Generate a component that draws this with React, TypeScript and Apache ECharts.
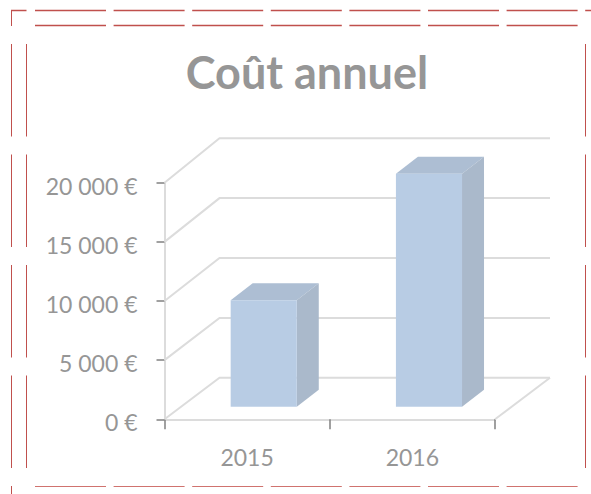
import React, { useEffect, useRef } from "react";
import * as echarts from "echarts";

const categories = ["2015", "2016"];
const annualCost = [9000, 19700];
const yTicks = [0, 5000, 10000, 15000, 20000];
const yTickLabels: Record<number, string> = {
  0: "0 €",
  5000: "5 000 €",
  10000: "10 000 €",
  15000: "15 000 €",
  20000: "20 000 €",
};
const titleText = "Coût annuel";

const WALL_DX = 55;
const WALL_DY = -41.5;
const WALL_SCALE = 1.0127;
const BAR_DX = 16.6;
const BAR_DY = -12.5;
const BAR_DEPTH_X = 22;
const BAR_DEPTH_Y = -17;
const GRID_COLOR = "#dcdcdc";
const TEXT_COLOR = "#969696";
const TICK_COLOR = "#808080";
const DASH_COLOR = "#c0504d";
const FONT = "Lato";

function dashed(x1: number, y1: number, x2: number, y2: number, dash: number[], color = DASH_COLOR, width = 1) {
  return {
    type: "line",
    silent: true,
    shape: { x1, y1, x2, y2 },
    style: { stroke: color, lineWidth: width, lineDash: dash },
  };
}

export default function App() {
  const ref = useRef<HTMLDivElement>(null);
  useEffect(() => {
    const chart = echarts.init(ref.current!, null, { renderer: "svg" });
    const hDash = [71, 7.6];
    const vDash = [92.5, 18];
    chart.setOption({
      animation: false,
      backgroundColor: "#ffffff",
      title: {
        text: titleText,
        left: 302,
        top: 44,
        textAlign: "center",
        textStyle: { fontFamily: FONT, fontWeight: "bold", fontSize: 45, color: TEXT_COLOR },
      },
      grid: { left: 164.5, right: 96, top: 182.7, bottom: 74.7 },
      xAxis: {
        type: "category",
        data: categories,
        axisLine: { show: true, lineStyle: { color: GRID_COLOR, width: 2 } },
        axisTick: { show: true, length: 10, alignWithLabel: false, lineStyle: { color: TICK_COLOR, width: 1.5 } },
        axisLabel: { color: TEXT_COLOR, fontFamily: FONT, fontSize: 23, margin: 26 },
      },
      yAxis: {
        type: "value",
        min: 0,
        max: 20000,
        interval: 5000,
        splitLine: { show: false },
        axisLine: { show: true, lineStyle: { color: GRID_COLOR, width: 2 } },
        axisTick: { show: true, length: 8, lineStyle: { color: TICK_COLOR, width: 1.5 } },
        axisLabel: {
          color: TEXT_COLOR,
          fontFamily: FONT,
          fontSize: 23,
          margin: 27,
          verticalAlign: "top",
          lineHeight: 6,
          formatter: (v: number) => yTickLabels[v],
        },
      },
      series: [
        {
          type: "custom",
          silent: true,
          z: 1,
          clip: false,
          data: yTicks.map((v) => [0, v]),
          encode: { x: 0, y: 1 },
          renderItem: (params: any, api: any) => {
            const size = api.size([1, 0])[0];
            const p = api.coord([0, api.value(1)]);
            const base = api.coord([0, 0]);
            const fx = p[0] - size / 2;
            const fy = p[1];
            const by = base[1] + WALL_DY - (base[1] - fy) * WALL_SCALE;
            const bx = fx + WALL_DX;
            const children: any[] = [
              {
                type: "polyline",
                shape: { points: [[fx, fy], [bx, by], [bx + size * categories.length, by]] },
                style: { stroke: GRID_COLOR, lineWidth: 2, fill: "none" },
              },
            ];
            if (api.value(1) === 0) {
              const rx = fx + size * categories.length;
              children.push({
                type: "polyline",
                shape: { points: [[rx, fy], [rx + WALL_DX, by]] },
                style: { stroke: GRID_COLOR, lineWidth: 2, fill: "none" },
              });
            }
            return { type: "group", children };
          },
        },
        {
          type: "custom",
          silent: true,
          z: 3,
          clip: false,
          data: annualCost.map((v, i) => [i, v]),
          encode: { x: 0, y: 1 },
          renderItem: (params: any, api: any) => {
            const size = api.size([1, 0])[0];
            const barWidth = size * 0.4;
            const top = api.coord([api.value(0), api.value(1)]);
            const bottom = api.coord([api.value(0), 0]);
            const x0 = top[0] + BAR_DX - barWidth / 2;
            const x1 = x0 + barWidth;
            const y0 = top[1] + BAR_DY;
            const y1 = bottom[1] + BAR_DY;
            const dx = BAR_DEPTH_X;
            const dy = BAR_DEPTH_Y;
            return {
              type: "group",
              children: [
                {
                  type: "polygon",
                  shape: { points: [[x0, y0], [x1, y0], [x1 + dx, y0 + dy], [x0 + dx, y0 + dy]] },
                  style: { fill: "#adbed3" },
                },
                {
                  type: "polygon",
                  shape: { points: [[x1, y0], [x1 + dx, y0 + dy], [x1 + dx, y1 + dy], [x1, y1]] },
                  style: { fill: "#aab9cb" },
                },
                {
                  type: "polygon",
                  shape: { points: [[x0, y0], [x1, y0], [x1, y1], [x0, y1]] },
                  style: { fill: "#b8cce4" },
                },
              ],
            };
          },
        },
      ],
      graphic: [
        dashed(11, 10.5, 26.5, 10.5, [], DASH_COLOR, 1.5),
        dashed(11.5, 10, 11.5, 26, []),
        dashed(35, 10.5, 591, 10.5, hDash, DASH_COLOR, 1.5),
        dashed(35, 25.5, 578, 25.5, hDash, DASH_COLOR, 1.5),
        dashed(35, 486.5, 578, 486.5, hDash, "#d0736f"),
        dashed(11.5, 44, 11.5, 494, vDash),
        dashed(26.5, 44, 26.5, 469, vDash),
        dashed(585.5, 44, 585.5, 469, vDash),
      ],
    });
    return () => chart.dispose();
  }, []);
  return (
    <div
      ref={ref}
      style={{ position: "absolute", left: 0, top: 0, width: 591, height: 494 }}
    />
  );
}
